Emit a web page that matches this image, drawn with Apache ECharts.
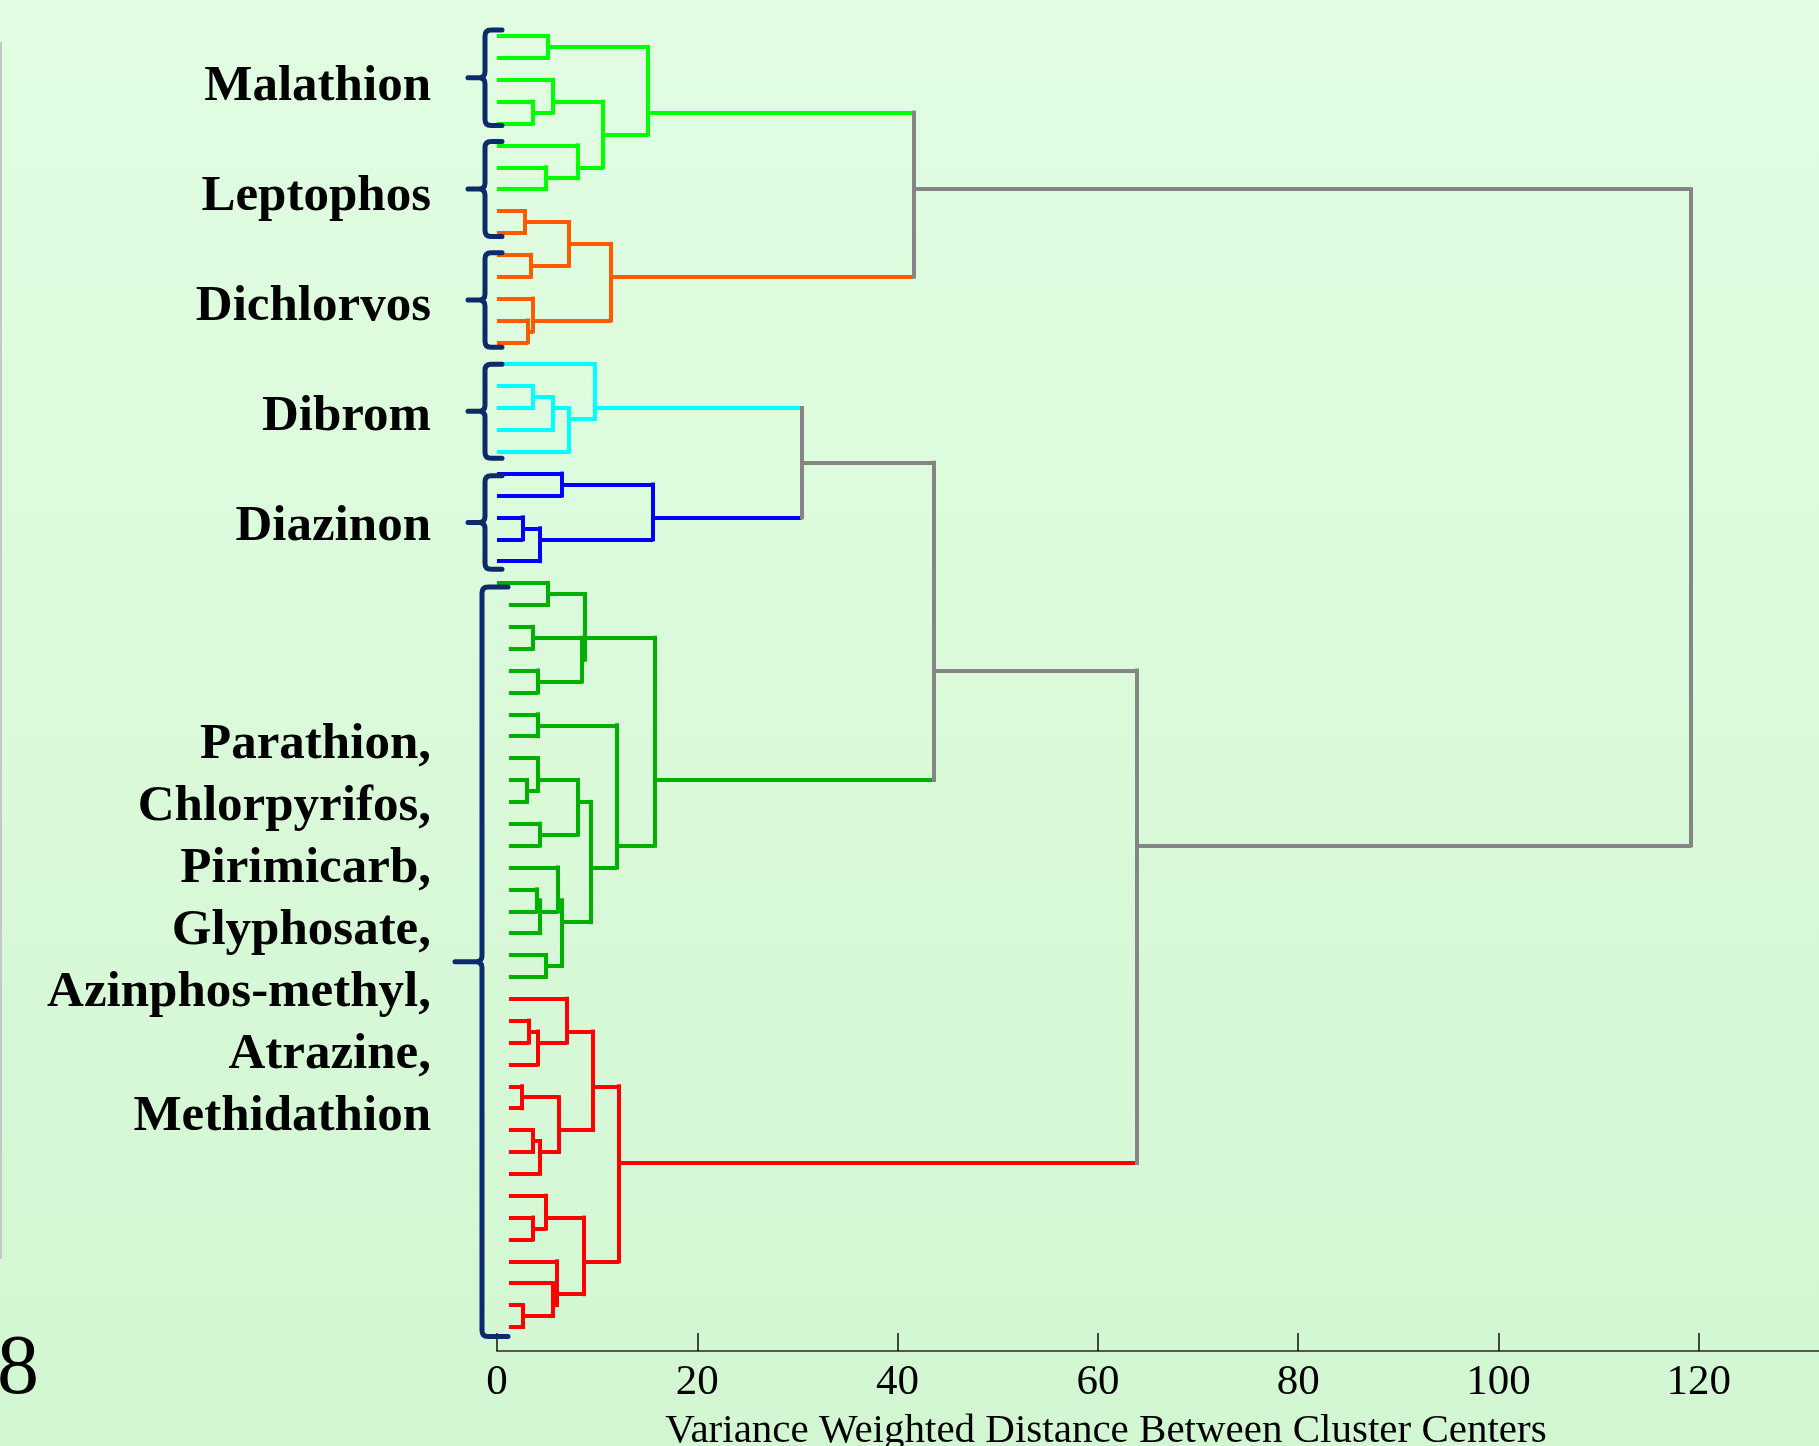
<!DOCTYPE html>
<html><head><meta charset="utf-8">
<script src="https://cdn.jsdelivr.net/npm/echarts@6/dist/echarts.min.js"></script>
<style>html,body{margin:0;padding:0;background:#dcfadc;} #c{width:1819px;height:1446px;}</style>
</head><body><div id="c"></div>
<script>
// Leaves are numbered 0..59 from top to bottom.
// Each merge: [firstLeaf, firstLeafOfRightChild, lastLeaf, distance]
const mergesLightGreen = [[0,1,1,5.1],[3,4,4,3.6],[2,3,4,5.6],[6,7,7,4.9],[5,6,7,8.1],[2,5,7,10.6],[0,2,7,15.1]];
const mergesOrange = [[8,9,9,2.8],[10,11,11,3.4],[8,10,11,7.2],[13,14,14,3.1],[12,13,14,3.6],[8,12,14,11.4]];
const mergesCyan = [[16,17,17,3.6],[16,18,18,5.6],[16,19,19,7.2],[15,16,19,9.8]];
const mergesBlue = [[20,21,21,6.5],[22,23,23,2.6],[22,24,24,4.3],[20,22,24,15.6]];
const mergesDarkGreen = [[25,26,26,5.1],[27,28,28,3.6],[29,30,30,4.1],[27,29,30,8.5],[25,27,30,8.8],
  [31,32,32,4.1],[34,35,35,3.0],[33,34,35,4.1],[36,37,37,4.3],[33,36,37,8.1],
  [39,40,40,4.0],[39,41,41,4.3],[38,39,41,6.1],[42,43,43,4.9],[38,42,43,6.5],
  [33,38,43,9.4],[31,33,43,12.0],[25,31,43,15.8]];
const mergesRed = [[45,46,46,3.2],[45,47,47,4.1],[44,45,47,7.0],[48,49,49,2.5],[50,51,51,3.6],[50,52,52,4.3],[48,50,52,6.2],[44,48,52,9.6],
  [54,55,55,3.6],[53,54,55,4.9],[58,59,59,2.6],[57,58,59,5.6],[56,57,59,6.0],[53,56,59,8.7],[44,53,59,12.2]];
const mergesUpper = [[0,8,14,41.6],[15,20,24,30.4],[15,25,43,43.6],[15,44,59,63.9],[0,15,59,119.2]];

const clusterMerges = [mergesLightGreen, mergesOrange, mergesCyan, mergesBlue, mergesDarkGreen, mergesRed, mergesUpper];
const clusterColors = ['#00ff00', '#ff5a00', '#00ffff', '#0000ff', '#00b000', '#ff0000', '#858585'];

const groupLabels = ['Malathion', 'Leptophos', 'Dichlorvos', 'Dibrom', 'Diazinon',
  'Parathion,\nChlorpyrifos,\nPirimicarb,\nGlyphosate,\nAzinphos-methyl,\nAtrazine,\nMethidathion'];
const groupFirstLeaf = [0, 5, 10, 15, 20, 25];
const groupLastLeaf = [4, 9, 14, 19, 24, 59];

const xTicks = [0, 20, 40, 60, 80, 100, 120];
const xTitle = 'Variance Weighted Distance Between Cluster Centers';
const leafCount = 60;

// drawing detail: in the lower block the leaf stubs start slightly right of 0
const lowerBlockFirstLeaf = 26, lowerLeafStart = 1.2;

// ---- build dendrogram links ----
const nodeInfo = {};
clusterMerges.forEach((list, ci) => {
  list.forEach(m => { nodeInfo[m[0] + '-' + m[2]] = { h: m[3], color: clusterColors[ci] }; });
});
const hLinks = [], vLinks = [];
clusterMerges.forEach((list, ci) => {
  const col = clusterColors[ci];
  list.forEach(m => {
    const [s, p, e, H] = m;
    const kids = [[s, p - 1], [p, e]];
    const ys = [];
    kids.forEach(k => {
      const y = (k[0] + k[1]) / 2;
      ys.push(y);
      const info = k[0] === k[1] ? null : nodeInfo[k[0] + '-' + k[1]];
      const h = info ? info.h : (k[0] >= lowerBlockFirstLeaf ? lowerLeafStart : 0);
      const c = info ? info.color : col;
      hLinks.push({ coords: [[h, y], [H, y]], lineStyle: { color: c } });
    });
    vLinks.push({ coords: [[H, ys[0]], [H, ys[1]]], lineStyle: { color: col } });
  });
});

const groupData = groupFirstLeaf.map((s, i) => [0, s, groupLastLeaf[i]]);

const chart = echarts.init(document.getElementById('c'));
chart.setOption({
  animation: false,
  graphic: [
    { type: 'rect', z: -10, shape: { x: 0, y: 0, width: 1819, height: 1446 },
      style: { fill: new echarts.graphic.LinearGradient(0, 0, 0, 1, [
        { offset: 0, color: '#e2fde2' }, { offset: 1, color: '#d2f6d2' }]) } },
    { type: 'line', shape: { x1: 1, y1: 42, x2: 1, y2: 1259 }, style: { stroke: '#c6c6c6', lineWidth: 2 } },
    { type: 'text', x: -3, y: 1371, style: { text: '8', fontFamily: 'Liberation Serif', fontSize: 84, fill: '#000', verticalAlign: 'middle' } }
  ],
  grid: { left: 497, right: 0, top: 36, bottom: 119, containLabel: false, outerBoundsMode: 'none' },
  xAxis: {
    type: 'value', min: 0, max: 132, interval: 20, offset: 24, position: 'bottom',
    axisLine: { show: true, onZero: false, lineStyle: { color: '#555', width: 2 } },
    axisTick: { show: true, inside: true, length: 18, lineStyle: { color: '#111', width: 1.5 } },
    axisLabel: { showMaxLabel: false, margin: 10, fontFamily: 'Liberation Serif', fontSize: 43, color: '#000',
      formatter: v => (xTicks.indexOf(v) >= 0 ? String(v) : '') },
    splitLine: { show: false },
    name: xTitle, nameLocation: 'middle', nameGap: 60,
    nameTextStyle: { fontFamily: 'Liberation Serif', fontSize: 41, color: '#000', padding: [0, 104, 0, 0] }
  },
  yAxis: { type: 'value', inverse: true, min: 0, max: leafCount - 1, show: false },
  series: [
    { type: 'lines', coordinateSystem: 'cartesian2d', polyline: false, silent: true, clip: false,
      lineStyle: { width: 4, opacity: 1, cap: 'butt' }, data: hLinks, z: 2 },
    { type: 'lines', coordinateSystem: 'cartesian2d', polyline: false, silent: true, clip: false,
      lineStyle: { width: 4, opacity: 1, cap: 'square' }, data: vLinks, z: 3 },
    { type: 'custom', coordinateSystem: 'cartesian2d', silent: true, clip: false, z: 4,
      encode: { x: 0, y: [1, 2] },
      data: groupData,
      renderItem: function (params, api) {
        const i = params.dataIndex;
        const s = api.value(1), e = api.value(2);
        const big = e - s > 10;
        const yc = api.coord([0, (s + e) / 2])[1];
        const top = api.coord([0, s])[1] - 6 + 2 * i;
        const bot = api.coord([0, e])[1] + 2 + 1.5 * i;
        const mid = yc - 2 + 1.75 * i;
        const x0 = api.coord([0, s])[0];
        const xv = x0 - (big ? 15 : 12);
        const xh = x0 + (big ? 11 : 5);
        const xt = x0 - (big ? 42 : 29);
        const r = 6;
        const d = 'M' + xh + ' ' + top + ' L' + (xv + r) + ' ' + top + ' Q' + xv + ' ' + top + ' ' + xv + ' ' + (top + r) +
          ' L' + xv + ' ' + (mid - r) + ' Q' + xv + ' ' + mid + ' ' + (xv - r) + ' ' + mid + ' L' + xt + ' ' + mid +
          ' M' + (xv - r) + ' ' + mid + ' Q' + xv + ' ' + mid + ' ' + xv + ' ' + (mid + r) +
          ' L' + xv + ' ' + (bot - r) + ' Q' + xv + ' ' + bot + ' ' + (xv + r) + ' ' + bot + ' L' + xh + ' ' + bot;
        const labelY = big ? yc - 24 : yc + 7.5 + 0.6 * i;
        return {
          type: 'group',
          children: [
            { type: 'path', shape: { pathData: d }, style: { fill: 'none', stroke: '#0c2b6b', lineWidth: 5, lineCap: 'round', lineJoin: 'round' } },
            { type: 'text', x: x0 - 66, y: labelY,
              style: { text: groupLabels[i], fontFamily: 'Liberation Serif', fontWeight: 'bold', fontSize: 51,
                fill: '#000', align: 'right', verticalAlign: 'middle', lineHeight: 62 } }
          ]
        };
      }
    }
  ]
});
</script>
</body></html>
